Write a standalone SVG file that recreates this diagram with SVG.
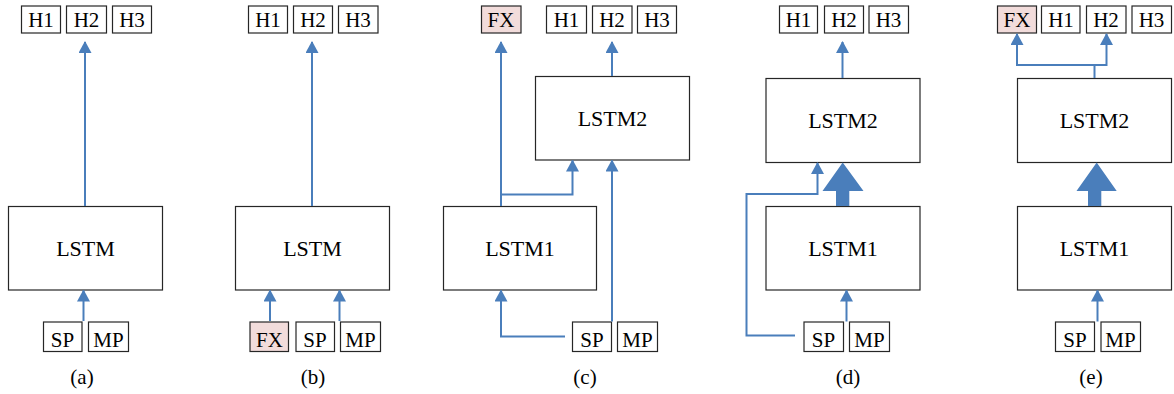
<svg xmlns="http://www.w3.org/2000/svg" width="1174" height="394" viewBox="0 0 1174 394">
<defs>
<style>
.b{fill:#fff;stroke:#262626;stroke-width:1.2}
.fx{fill:#f2dcdb;stroke:#262626;stroke-width:1.2}
text{font-family:'Liberation Serif','DejaVu Serif',serif;font-size:21px;fill:#000;text-anchor:middle}
.L{font-size:22px}
.c{fill:none;stroke:#4a7ebb;stroke-width:2}
.fat{fill:#4a7ebb;stroke:none}
</style>
<marker id="ah" viewBox="0 0 12 13" refX="11" refY="6.5" markerWidth="12" markerHeight="13" markerUnits="userSpaceOnUse" orient="auto">
<path d="M0,0 L12,6.5 L0,13 z" fill="#4a7ebb"/>
</marker>
</defs>
<g font-family="Liberation Serif, DejaVu Serif, serif">
<!-- (a) -->
<g id="a-H1"><rect class="b" x="21.5" y="6" width="39" height="27"/><text x="41" y="27">H1</text></g>
<g id="a-H2"><rect class="b" x="66.5" y="6" width="40" height="27"/><text x="86.5" y="27">H2</text></g>
<g id="a-H3"><rect class="b" x="112.5" y="6" width="39" height="27"/><text x="132" y="27">H3</text></g>
<g id="a-LSTM"><rect class="b" x="8.5" y="206.5" width="154" height="83.5"/><text class="L" x="85.5" y="256">LSTM</text></g>
<g id="a-SP"><rect class="b" x="43.5" y="322" width="38.5" height="29.5"/><text x="62.5" y="347">SP</text></g>
<g id="a-MP"><rect class="b" x="88.5" y="322" width="40" height="29.5"/><text x="108.5" y="347">MP</text></g>
<text id="a-label" x="82" y="384">(a)</text>

<!-- (b) -->
<g id="b-H1"><rect class="b" x="248.5" y="6" width="39" height="27"/><text x="268" y="27">H1</text></g>
<g id="b-H2"><rect class="b" x="293.5" y="6" width="39" height="27"/><text x="313" y="27">H2</text></g>
<g id="b-H3"><rect class="b" x="338.5" y="6" width="39.5" height="27"/><text x="358" y="27">H3</text></g>
<g id="b-LSTM"><rect class="b" x="235.5" y="206.5" width="154" height="83.5"/><text class="L" x="312.5" y="256">LSTM</text></g>
<g id="b-FX"><rect class="fx" x="250" y="322" width="38.5" height="29.5"/><text x="269.5" y="347">FX</text></g>
<g id="b-SP"><rect class="b" x="296" y="322" width="38.5" height="29.5"/><text x="315" y="347">SP</text></g>
<g id="b-MP"><rect class="b" x="340.5" y="322" width="40" height="29.5"/><text x="360.5" y="347">MP</text></g>
<text id="b-label" x="313" y="384">(b)</text>

<!-- (c) -->
<g id="c-FX"><rect class="fx" x="481.5" y="6" width="39.5" height="27"/><text x="501" y="27">FX</text></g>
<g id="c-H1"><rect class="b" x="546.5" y="6" width="40" height="27"/><text x="566.5" y="27">H1</text></g>
<g id="c-H2"><rect class="b" x="592.5" y="6" width="39.5" height="27"/><text x="612" y="27">H2</text></g>
<g id="c-H3"><rect class="b" x="637.5" y="6" width="39" height="27"/><text x="657" y="27">H3</text></g>
<g id="c-LSTM2"><rect class="b" x="535.5" y="76.5" width="154" height="83.5"/><text class="L" x="612.5" y="126">LSTM2</text></g>
<g id="c-LSTM1"><rect class="b" x="443.5" y="206.5" width="153" height="83.5"/><text class="L" x="520" y="256">LSTM1</text></g>
<g id="c-SP"><rect class="b" x="572.5" y="322" width="39" height="29.5"/><text x="592" y="347">SP</text></g>
<g id="c-MP"><rect class="b" x="617.5" y="322" width="40" height="29.5"/><text x="637.5" y="347">MP</text></g>
<text id="c-label" x="585" y="384">(c)</text>

<!-- (d) -->
<g id="d-H1"><rect class="b" x="779.5" y="6" width="38" height="27"/><text x="798.5" y="27">H1</text></g>
<g id="d-H2"><rect class="b" x="824.5" y="6" width="39" height="27"/><text x="844" y="27">H2</text></g>
<g id="d-H3"><rect class="b" x="869" y="6" width="39.5" height="27"/><text x="888.5" y="27">H3</text></g>
<g id="d-LSTM2"><rect class="b" x="766" y="78.5" width="154" height="84"/><text class="L" x="843" y="128">LSTM2</text></g>
<g id="d-LSTM1"><rect class="b" x="766" y="206.5" width="154" height="83.5"/><text class="L" x="843" y="256">LSTM1</text></g>
<g id="d-SP"><rect class="b" x="804" y="322" width="39.5" height="29.5"/><text x="823.5" y="347">SP</text></g>
<g id="d-MP"><rect class="b" x="849.5" y="322" width="40" height="29.5"/><text x="869.5" y="347">MP</text></g>
<text id="d-label" x="848" y="384">(d)</text>

<!-- (e) -->
<g id="e-FX"><rect class="fx" x="997.5" y="6" width="39" height="27"/><text x="1017" y="27">FX</text></g>
<g id="e-H1"><rect class="b" x="1041.5" y="6" width="38.5" height="27"/><text x="1061" y="27">H1</text></g>
<g id="e-H2"><rect class="b" x="1086.5" y="6" width="39.5" height="27"/><text x="1106" y="27">H2</text></g>
<g id="e-H3"><rect class="b" x="1132" y="6" width="39.5" height="27"/><text x="1151.5" y="27">H3</text></g>
<g id="e-LSTM2"><rect class="b" x="1017.5" y="78.5" width="154" height="84"/><text class="L" x="1094.5" y="128">LSTM2</text></g>
<g id="e-LSTM1"><rect class="b" x="1017.5" y="206.5" width="154" height="83.5"/><text class="L" x="1094.5" y="256">LSTM1</text></g>
<g id="e-SP"><rect class="b" x="1055.5" y="322" width="39" height="29.5"/><text x="1075" y="347">SP</text></g>
<g id="e-MP"><rect class="b" x="1101" y="322" width="39.5" height="29.5"/><text x="1120.5" y="347">MP</text></g>
<text id="e-label" x="1091" y="384">(e)</text>
</g>
<g id="connectors">
<!-- a -->
<path class="c" d="M85,206 V42" marker-end="url(#ah)"/>
<path class="c" d="M83.5,321 V290.5" marker-end="url(#ah)"/>
<!-- b -->
<path class="c" d="M312,206 V42" marker-end="url(#ah)"/>
<path class="c" d="M270,321 V290.5" marker-end="url(#ah)"/>
<path class="c" d="M339.5,321 V290.5" marker-end="url(#ah)"/>
<!-- c -->
<path class="c" d="M501,206 V42" marker-end="url(#ah)"/>
<path class="c" d="M612,76 V42" marker-end="url(#ah)"/>
<path class="c" d="M501,194.5 H572.5 V160.5" marker-end="url(#ah)"/>
<path class="c" d="M612,321.5 V160.5" marker-end="url(#ah)"/>
<path class="c" d="M565,336.5 H501 V290.5" marker-end="url(#ah)"/>
<!-- d -->
<path class="c" d="M842.5,78 V42" marker-end="url(#ah)"/>
<path class="c" d="M795,335.5 H746.5 V194 H817.5 V163" marker-end="url(#ah)"/>
<path class="c" d="M846.5,321.5 V290.5" marker-end="url(#ah)"/>
<path class="fat" d="M836,206 V191 H822.5 L842.7,162.5 L863.5,191 H849.3 V206 Z"/>
<!-- e -->
<path class="c" d="M1094.5,78 V65"/>
<path class="c" d="M1017,65 H1106.5"/>
<path class="c" d="M1017,66 V34" marker-end="url(#ah)"/>
<path class="c" d="M1106.5,66 V34" marker-end="url(#ah)"/>
<path class="c" d="M1097.5,321.5 V290.5" marker-end="url(#ah)"/>
<path class="fat" d="M1088,206 V191 H1076.5 L1096.7,162.5 L1116.7,191 H1101.3 V206 Z"/>
</g>
</svg>
